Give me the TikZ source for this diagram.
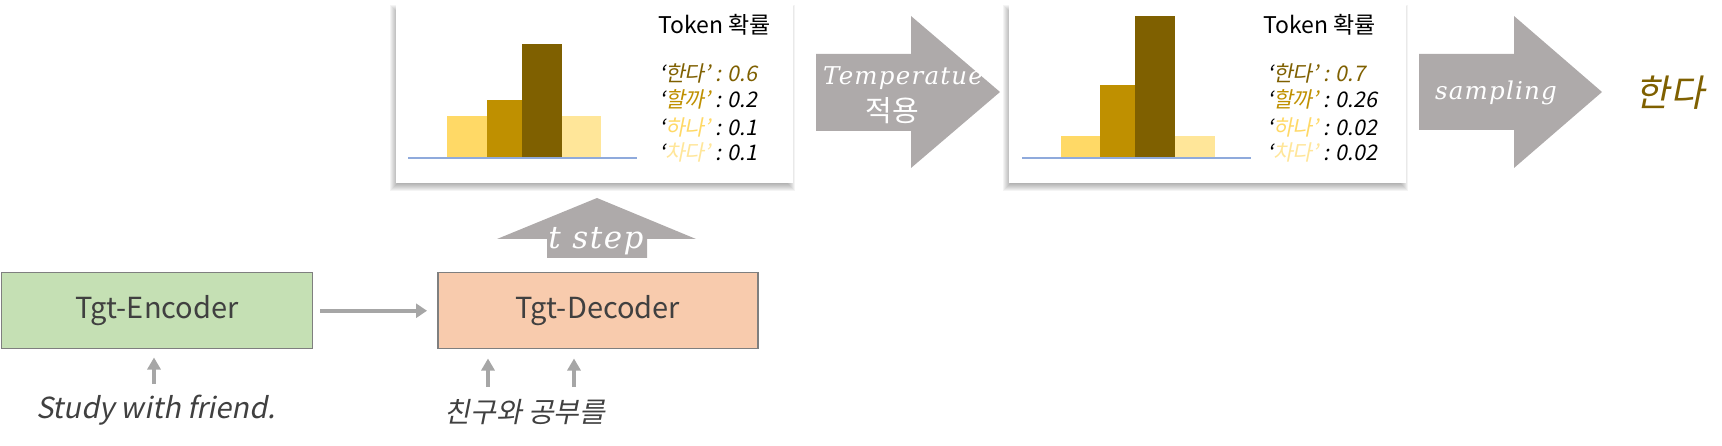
\RequirePackage{fix-cm}
\documentclass[tikz,border=0pt]{standalone}
\usepackage{fontspec}
\setmainfont{Noto Sans CJK KR}
\newfontfamily\krit[FakeSlant=0.2]{Noto Sans CJK KR}
\newfontfamily\serit[LetterSpace=5]{DejaVu Serif}
\usetikzlibrary{arrows.meta}
\definecolor{gdark}{HTML}{7F6000}
\definecolor{gmid}{HTML}{BF9000}
\definecolor{ylw}{HTML}{FFD966}
\definecolor{ylwl}{HTML}{FFE699}
\definecolor{baseblue}{HTML}{8FAADC}
\definecolor{bigarrow}{HTML}{AEAAAA}
\definecolor{smallarrow}{HTML}{A6A6A6}
\definecolor{encfill}{HTML}{C5E0B4}
\definecolor{decfill}{HTML}{F8CBAD}
\definecolor{boxline}{HTML}{7F7F7F}
\definecolor{txtdark}{HTML}{404040}
\tikzset{
  blockbox/.style={draw=boxline, line width=1.5pt, minimum height=76pt, anchor=north west,
     inner sep=0pt, font=\fontsize{29}{34}\selectfont, text=txtdark},
  probbox/.style={fill=white, minimum width=397pt, minimum height=178pt, anchor=north west, inner sep=0pt},
  conn/.style={draw=smallarrow, line width=4pt, -{Triangle[width=14pt,length=11pt]}},
  inarrow/.style={draw=smallarrow, line width=4pt, -{Triangle[width=13pt,length=12pt]}},
  bigarr/.style={fill=bigarrow},
  lbl/.style={font=\krit\fontsize{21.5}{25}\selectfont, anchor=west, inner sep=0pt},
  ttl/.style={font=\fontsize{23}{27}\selectfont, anchor=west, inner sep=0pt},
  mtxt/.style={text=white, inner sep=0pt},
}
\begin{document}
\begin{tikzpicture}[x=1pt,y=-1pt]
\useasboundingbox (0,0) rectangle (1722,446);

% shadows of the probability boxes
\foreach \bx in {396,1009}{
  \foreach \k in {0,...,7}{
    \fill[black,opacity=0.045] (\bx-2-\k+3,5+4-\k+3) rectangle (\bx+397-2+\k-3,5+178+4+\k-3);
  }
}
\node[probbox] (p1) at (396,5) {};
\node[probbox] (p2) at (1009,5) {};

% bars box 1
\fill[ylw]  (447,158) rectangle (487,116);
\fill[gmid] (487,158) rectangle (522,100);
\fill[gdark](522,158) rectangle (562,44);
\fill[ylwl] (562,158) rectangle (601,116);
\draw[baseblue, line width=1.3pt] (408,158) -- (637,158);
% bars box 2
\fill[ylw]  (1061,158) rectangle (1100,136);
\fill[gmid] (1100,158) rectangle (1135,85);
\fill[gdark](1135,158) rectangle (1175,16);
\fill[ylwl] (1175,158) rectangle (1215,136);
\draw[baseblue, line width=1.3pt] (1022,158) -- (1251,158);

% texts box 1
\node[ttl] (t1) at (658,25) {Token 확률};
\node[lbl, text=gdark] (a1) at (659,73) {{\color{black}‘}한다’ : 0.6};
\node[lbl] (a2) at (659,99) {‘{\color{gmid}할까’} : 0.2};
\node[lbl] (a3) at (659,127) {‘{\color{ylw}하나’} : 0.1};
\node[lbl] (a4) at (659,152) {‘{\color{ylwl}차다’} : 0.1};
% texts box 2
\node[ttl] (t2) at (1263,25) {Token 확률};
\node[lbl, text=gdark] (b1) at (1267,73) {{\color{black}‘}한다’ : 0.7};
\node[lbl] (b2) at (1267,99) {‘{\color{gmid}할까’} : 0.26};
\node[lbl] (b3) at (1267,127) {‘{\color{ylw}하나’} : 0.02};
\node[lbl] (b4) at (1267,152) {‘{\color{ylwl}차다’} : 0.02};

% big block arrows
\fill[bigarr] (816,54) -- (911,54) -- (911,16) -- (1000,92) -- (911,168) -- (911,131) -- (816,131) -- cycle;
\node[mtxt, font=\serit\itshape\fontsize{24.5}{30}\selectfont] (temp) at (903,78) {Temperatue};
\node[mtxt, font=\fontsize{29}{32}\selectfont] (apply) at (892,111) {적용};

\fill[bigarr] (1419,54) -- (1514,54) -- (1514,16) -- (1602,92) -- (1514,168) -- (1514,130) -- (1419,130) -- cycle;
\node[mtxt, font=\serit\itshape\fontsize{24.5}{30}\selectfont] (samp) at (1496,93) {sampling};

\node[font=\krit\fontsize{37}{42}\selectfont, text=gdark, inner sep=0pt] (out) at (1670,93) {한다};

\fill[bigarr] (547,258) -- (547,239) -- (497,239) -- (597,198) -- (696,239) -- (647,239) -- (647,258) -- cycle;
\node[mtxt, font=\serit\itshape\fontsize{31}{36}\selectfont] (tstep) at (596,241) {t step};

% encoder / decoder
\node[blockbox, fill=encfill, minimum width=311pt] (enc) at (0.75,272) {Tgt-Encoder};
\node[blockbox, fill=decfill, minimum width=320pt] (dec) at (437,272) {Tgt-Decoder};
\draw[conn, shorten <=7pt, shorten >=10pt] (enc) -- (dec);

% inputs
\node[font=\krit\fontsize{29}{34}\selectfont, text=txtdark, inner sep=0pt] (src) at (156,410) {Study with friend.};
\node[font=\krit\fontsize{28}{33}\selectfont, text=txtdark, inner sep=0pt] (tgt) at (525,412) {친구와 공부를};
\coordinate (s1) at (154,384);
\coordinate (s2) at (488,387);
\coordinate (s3) at (574,387);
\draw[inarrow, shorten >=8pt] (s1) -- (s1 |- enc.south);
\draw[inarrow, shorten >=9pt] (s2) -- (s2 |- dec.south);
\draw[inarrow, shorten >=9pt] (s3) -- (s3 |- dec.south);
\end{tikzpicture}
\end{document}
